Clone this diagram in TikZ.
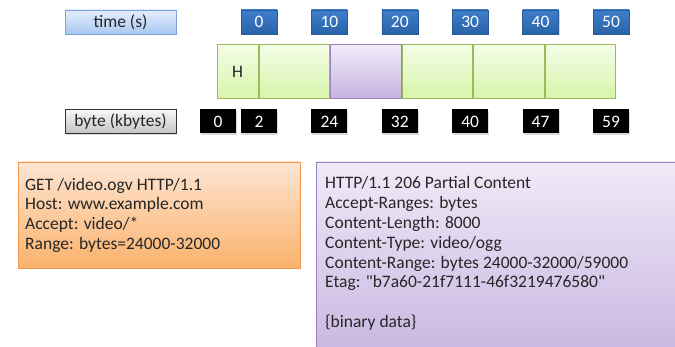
\documentclass[tikz,border=0pt]{standalone}
\usepackage{fontspec}
\setmainfont{Carlito}[Ligatures=TeXOff]
\usetikzlibrary{positioning, shadows}

\definecolor{labelblueTop}{HTML}{E4EEFC}
\definecolor{labelblueBot}{HTML}{A9C8F2}
\definecolor{labelblueLine}{HTML}{7BA3DA}
\definecolor{tickTop}{HTML}{3D7FCA}
\definecolor{tickBot}{HTML}{2A62A8}
\definecolor{tickLine}{HTML}{2A5C9A}
\definecolor{greyTop}{HTML}{F7F7F7}
\definecolor{greyBot}{HTML}{C4C4C4}
\definecolor{greenTop}{HTML}{F4FDE6}
\definecolor{greenBot}{HTML}{D6F4AA}
\definecolor{greenLine}{HTML}{9BBB59}
\definecolor{violetTop}{HTML}{F0EAF8}
\definecolor{violetBot}{HTML}{C6B2DF}
\definecolor{violetLine}{HTML}{9A82BD}
\definecolor{orangeTop}{HTML}{FDE5D2}
\definecolor{orangeBot}{HTML}{FAB26C}
\definecolor{orangeLine}{HTML}{F79646}

\begin{document}
\begin{tikzpicture}[x=1pt, y=-1pt,
    every node/.style={font=\fontsize{17.5}{19.8}\selectfont, text=black!85},
    softshadow/.style={drop shadow={opacity=0.3, shadow xshift=1pt, shadow yshift=-1.5pt}},
    tickbox/.style={minimum width=36pt, minimum height=24pt, inner sep=0pt, text=white, softshadow},
    timetick/.style={tickbox, draw=tickLine, top color=tickTop, bottom color=tickBot},
    bytetick/.style={tickbox, fill=black},
    axislabel/.style={minimum width=111pt, minimum height=24pt, inner sep=0pt, softshadow},
    segment/.style={minimum width=70.5pt, minimum height=54pt, inner sep=0pt, line width=1pt,
        draw=greenLine, top color=greenTop, bottom color=greenBot},
    msgtext/.style={align=left, inner sep=0pt, anchor=base west}]

    \useasboundingbox (0,0) rectangle (675,347);
    \clip (0,0) rectangle (675,347);

    % axis labels
    \node (TimeLabel) [axislabel, draw=labelblueLine, top color=labelblueTop, bottom color=labelblueBot] at (120.5,22) {time (s)};
    \node (ByteLabel) [axislabel, draw=black!80, top color=greyTop, bottom color=greyBot] at (120.5,121.5) {byte (kbytes)};

    % time marks
    \foreach \t [count=\i from 0] in {0,10,20,30,40,50}
        \node (Time\t) [timetick] at (259+70.4*\i,22) {\t};

    % byte marks
    \node (Byte0) [bytetick] at (218,121.5) {0};
    \foreach \b/\x in {2/259, 24/329.4, 32/399.8, 40/470.2, 47/540.6, 59/611}
        \node (Byte\b) [bytetick] at (\x,121.5) {\b};

    % segments of the file
    \node (SegH) [segment, minimum width=41pt] at (237.5,72) {H};
    \node (Seg1) [segment, right=0pt of SegH] {};
    \node (Seg2) [segment, right=0pt of Seg1, draw=violetLine, top color=violetTop, bottom color=violetBot] {};
    \node (Seg3) [segment, right=0pt of Seg2] {};
    \node (Seg4) [segment, right=0pt of Seg3] {};
    \node (Seg5) [segment, right=0pt of Seg4] {};

    % request (text anchored on its last line)
    \node (Request) [draw=orangeLine, line width=0.8pt, top color=orangeTop, bottom color=orangeBot,
        minimum width=282pt, minimum height=106pt, softshadow] at (159,215) {};
    \node (RequestText) [msgtext] at (25,249.5) {GET /video.ogv HTTP/1.1\\
        Host: www.example.com\\
        Accept: video/*\\
        Range: bytes=24000-32000};

    % response
    \node (Response) [draw=violetLine, line width=0.8pt, top color=violetTop, bottom color=violetBot,
        minimum width=384pt, minimum height=208pt, softshadow] at (508,266) {};
    \node (ResponseText) [msgtext] at (325,327.6) {HTTP/1.1 206 Partial Content\\
        Accept-Ranges: bytes\\
        Content-Length: 8000\\
        Content-Type: video/ogg\\
        Content-Range: bytes 24000-32000/59000\\
        Etag: "b7a60-21f7111-46f3219476580"\\[19.8pt]
        \{binary data\}};
\end{tikzpicture}
\end{document}
